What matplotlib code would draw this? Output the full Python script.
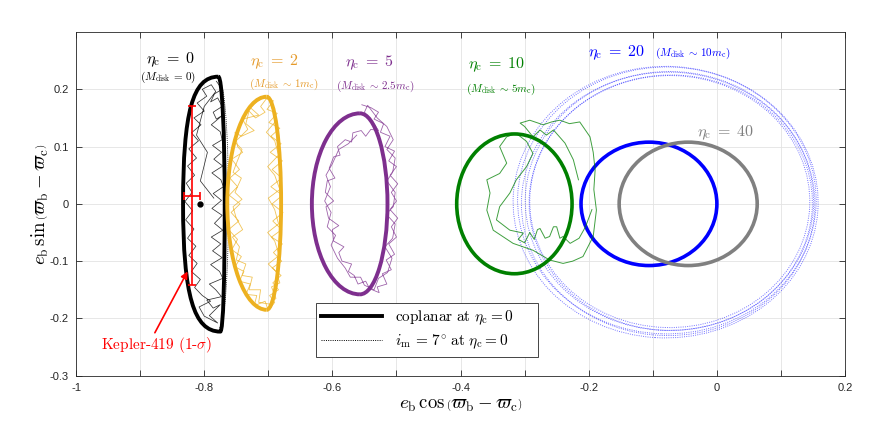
import numpy as np
import matplotlib.pyplot as plt
from matplotlib.patches import Ellipse, Arc, PathPatch
from matplotlib.path import Path
from matplotlib.lines import Line2D

plt.rcParams['mathtext.fontset'] = 'cm'
plt.rcParams['font.family'] = ['Liberation Sans', 'DejaVu Sans']

# --- data -----------------------------------------------------------------
# eta_c = 0 coplanar curve (bezier outline: top, left, bottom, right)
eta0_outline = [(-0.778, 0.222), (-0.818, 0.222), (-0.833, 0.160), (-0.833, 0.000),
                (-0.833, -0.160), (-0.816, -0.223), (-0.775, -0.223),
                (-0.770, -0.223), (-0.768, -0.123), (-0.768, 0.000),
                (-0.768, 0.123), (-0.772, 0.222), (-0.778, 0.222)]

# eta_c = 2, 5 coplanar curves (centre, left half-width, right half-width, half-height)
cres_cx = [-0.7025, -0.557]
cres_cy = [0.001, 0.0]
cres_left = [0.0615, 0.075]
cres_right = [0.0225, 0.043]
cres_halfh = [0.186, 0.158]
cres_colors = ['#EDB120', '#7E2F8E']

# eta_c = 10, 20, 40 coplanar curves
ell_cx = [-0.316, -0.106, -0.0448]
ell_cy = [0.0, 0.0, 0.0]
ell_halfw = [0.090, 0.106, 0.1077]
ell_halfh = [0.122, 0.1077, 0.1077]
ell_colors = ['#008000', '#0000FF', '#808080']

# eta_c = 20, i_m = 7 deg (dotted)
dot_cx = [-0.080, -0.078, -0.076, -0.074, -0.072, -0.0735]
dot_cy = [0.003, 0.006, 0.000, 0.005, 0.002, 0.004]
dot_halfw = [0.238, 0.233, 0.229, 0.225, 0.221, 0.2185]
dot_halfh = [0.237, 0.233, 0.230, 0.226, 0.223, 0.220]
dot_angle = [-4, -2, -6, -3, -5, -2]

# N-body tracks
eta0_track = [
    (-0.781, 0.214), (-0.772, 0.200), (-0.784, 0.192), (-0.790, 0.178), (-0.779, 0.185),
    (-0.772, 0.170), (-0.786, 0.160), (-0.781, 0.148), (-0.771, 0.155), (-0.789, 0.138),
    (-0.775, 0.126), (-0.772, 0.112), (-0.787, 0.102), (-0.773, 0.090), (-0.785, 0.078),
    (-0.771, 0.066), (-0.788, 0.054), (-0.774, 0.042), (-0.770, 0.030), (-0.786, 0.018),
    (-0.773, 0.006), (-0.788, -0.008), (-0.772, -0.020), (-0.784, -0.034), (-0.771, -0.046),
    (-0.789, -0.058), (-0.774, -0.070), (-0.787, -0.082), (-0.772, -0.094), (-0.790, -0.106),
    (-0.776, -0.118), (-0.771, -0.130), (-0.792, -0.140), (-0.782, -0.150), (-0.773, -0.162),
    (-0.796, -0.168), (-0.786, -0.182), (-0.775, -0.176), (-0.792, -0.195), (-0.779, -0.208),
    (-0.800, -0.196), (-0.808, -0.180), (-0.790, -0.170), (-0.803, -0.160), (-0.815, -0.146),
    (-0.806, -0.132), (-0.820, -0.118), (-0.811, -0.104), (-0.824, -0.090), (-0.813, -0.074),
    (-0.826, -0.060), (-0.816, -0.044), (-0.829, -0.028), (-0.818, -0.012), (-0.830, 0.004),
    (-0.819, 0.020), (-0.828, 0.036), (-0.815, 0.050), (-0.826, 0.066), (-0.812, 0.080),
    (-0.824, 0.096), (-0.809, 0.110), (-0.820, 0.124), (-0.805, 0.138), (-0.816, 0.150),
    (-0.800, 0.162), (-0.811, 0.176), (-0.796, 0.188), (-0.803, 0.200), (-0.789, 0.208),
    (-0.782, 0.196), (-0.800, 0.170), (-0.812, 0.120), (-0.795, 0.090), (-0.806, 0.040),
    (-0.785, 0.010),
]

eta2_track = [
    (-0.700, 0.188), (-0.712, 0.170), (-0.705, 0.160), (-0.720, 0.150), (-0.730, 0.162),
    (-0.735, 0.140), (-0.722, 0.128), (-0.742, 0.118), (-0.752, 0.125), (-0.748, 0.100),
    (-0.740, 0.090), (-0.757, 0.078), (-0.745, 0.060), (-0.760, 0.045), (-0.748, 0.030),
    (-0.761, 0.015), (-0.744, 0.000), (-0.758, -0.015), (-0.746, -0.030), (-0.762, -0.045),
    (-0.748, -0.062), (-0.757, -0.080), (-0.742, -0.092), (-0.752, -0.110), (-0.738, -0.118),
    (-0.745, -0.135), (-0.728, -0.140), (-0.735, -0.158), (-0.718, -0.160), (-0.722, -0.178),
    (-0.705, -0.170), (-0.700, -0.186), (-0.690, -0.172), (-0.698, -0.160), (-0.684, -0.150),
    (-0.693, -0.138), (-0.680, -0.125), (-0.694, -0.112), (-0.679, -0.100), (-0.692, -0.085),
    (-0.678, -0.070), (-0.695, -0.058), (-0.679, -0.045), (-0.693, -0.030), (-0.677, -0.015),
    (-0.694, 0.000), (-0.678, 0.015), (-0.696, 0.030), (-0.679, 0.045), (-0.694, 0.060),
    (-0.678, 0.075), (-0.697, 0.090), (-0.680, 0.105), (-0.696, 0.118), (-0.682, 0.132),
    (-0.699, 0.142), (-0.686, 0.158), (-0.702, 0.165), (-0.692, 0.180), (-0.708, 0.185),
    (-0.718, 0.178), (-0.728, 0.168), (-0.715, 0.155), (-0.740, 0.148), (-0.732, 0.130),
    (-0.752, 0.108), (-0.741, 0.095), (-0.750, 0.070), (-0.755, 0.055), (-0.742, 0.045),
    (-0.752, 0.020), (-0.741, 0.008), (-0.755, -0.005), (-0.750, -0.025), (-0.740, -0.045),
    (-0.756, -0.058), (-0.745, -0.075), (-0.750, -0.098), (-0.735, -0.105), (-0.741, -0.125),
    (-0.725, -0.128), (-0.730, -0.150), (-0.712, -0.150), (-0.715, -0.172), (-0.698, -0.175),
    (-0.688, -0.165), (-0.695, -0.145), (-0.682, -0.138), (-0.688, -0.118), (-0.700, -0.105),
    (-0.683, -0.090), (-0.690, -0.065), (-0.701, -0.050), (-0.684, -0.035), (-0.690, -0.010),
    (-0.700, 0.010), (-0.682, 0.025), (-0.690, 0.050), (-0.701, 0.065), (-0.684, 0.085),
    (-0.690, 0.110), (-0.703, 0.125), (-0.688, 0.145), (-0.695, 0.170), (-0.700, 0.188),
]

eta5_track = [
    (-0.554, 0.173), (-0.540, 0.168), (-0.528, 0.160), (-0.535, 0.148), (-0.520, 0.140),
    (-0.525, 0.125), (-0.510, 0.118), (-0.518, 0.100), (-0.503, 0.092), (-0.512, 0.075),
    (-0.500, 0.065), (-0.510, 0.050), (-0.498, 0.035), (-0.508, 0.020), (-0.500, 0.005),
    (-0.510, -0.010), (-0.498, -0.025), (-0.508, -0.040), (-0.500, -0.058), (-0.512, -0.070),
    (-0.503, -0.088), (-0.516, -0.098), (-0.508, -0.115), (-0.522, -0.122), (-0.515, -0.140),
    (-0.530, -0.145), (-0.527, -0.155), (-0.542, -0.148), (-0.548, -0.135), (-0.560, -0.140),
    (-0.566, -0.125), (-0.575, -0.118), (-0.570, -0.105), (-0.585, -0.100), (-0.590, -0.085),
    (-0.582, -0.075), (-0.598, -0.065), (-0.600, -0.045), (-0.590, -0.038), (-0.606, -0.025),
    (-0.610, -0.005), (-0.598, 0.005), (-0.611, 0.020), (-0.608, 0.040), (-0.596, 0.045),
    (-0.605, 0.062), (-0.598, 0.082), (-0.588, 0.085), (-0.592, 0.100), (-0.580, 0.112),
    (-0.570, 0.108), (-0.568, 0.124), (-0.555, 0.128), (-0.548, 0.118), (-0.540, 0.130),
    (-0.528, 0.128), (-0.538, 0.145), (-0.550, 0.160), (-0.545, 0.172), (-0.530, 0.150),
    (-0.515, 0.135), (-0.505, 0.112), (-0.515, 0.095), (-0.502, 0.080), (-0.506, 0.055),
    (-0.515, 0.040), (-0.502, 0.020), (-0.505, -0.005), (-0.516, -0.018), (-0.502, -0.035),
    (-0.506, -0.060), (-0.518, -0.075), (-0.507, -0.095), (-0.514, -0.120), (-0.528, -0.130),
    (-0.535, -0.150), (-0.550, -0.142), (-0.556, -0.128), (-0.572, -0.128), (-0.580, -0.112),
    (-0.592, -0.095), (-0.602, -0.072), (-0.595, -0.055), (-0.608, -0.040), (-0.602, -0.015),
    (-0.612, 0.005), (-0.603, 0.030), (-0.610, 0.050), (-0.600, 0.070), (-0.590, 0.095),
    (-0.575, 0.105), (-0.562, 0.120),
]

eta10_track = [
    (-0.216, 0.042), (-0.224, 0.077), (-0.237, 0.106), (-0.255, 0.129), (-0.266, 0.120),
    (-0.276, 0.129), (-0.287, 0.117), (-0.300, 0.135), (-0.307, 0.141), (-0.292, 0.146),
    (-0.271, 0.138), (-0.258, 0.143), (-0.245, 0.146), (-0.230, 0.140), (-0.214, 0.143),
    (-0.198, 0.117), (-0.193, 0.090), (-0.190, 0.059), (-0.192, 0.025), (-0.188, -0.011),
    (-0.193, -0.057), (-0.209, -0.092), (-0.225, -0.100), (-0.240, -0.104), (-0.261, -0.098),
    (-0.287, -0.081), (-0.318, -0.069), (-0.349, -0.046), (-0.359, -0.011), (-0.354, 0.019),
    (-0.359, 0.042), (-0.339, 0.053), (-0.328, 0.071), (-0.339, 0.100), (-0.328, 0.117),
    (-0.313, 0.123), (-0.297, 0.109), (-0.287, 0.088), (-0.297, 0.065), (-0.313, 0.042),
    (-0.323, 0.019), (-0.339, -0.005), (-0.344, -0.028), (-0.323, -0.046), (-0.302, -0.051),
    (-0.310, -0.062), (-0.300, -0.068), (-0.292, -0.050), (-0.285, -0.062), (-0.280, -0.045),
    (-0.276, -0.043), (-0.268, -0.060), (-0.261, -0.057), (-0.255, -0.040), (-0.250, -0.040),
    (-0.245, -0.060), (-0.240, -0.057), (-0.229, -0.069), (-0.215, -0.060), (-0.205, -0.040),
    (-0.195, -0.010),
]

# Kepler-419 measurement
kep_x, kep_y = -0.819, 0.0145
kep_xerr, kep_yerr = 0.0125, 0.1565
dot_pt = (-0.807, 0.0)

# labels
lab_text = [r'$\eta_{\rm c}\;=\;0$', r'$\eta_{\rm c}\;=\;2$', r'$\eta_{\rm c}\;=\;5$',
            r'$\eta_{\rm c}\;=\;10$', r'$\eta_{\rm c}\;=\;20$', r'$\eta_{\rm c}\;=\;40$']
lab_sub = [r'$(M_{\rm disk}\,=\,0)$', r'$(M_{\rm disk}\,\sim\,1m_{\rm c})$',
           r'$(M_{\rm disk}\,\sim\,2.5m_{\rm c})$', r'$(M_{\rm disk}\,\sim\,5m_{\rm c})$',
           r'$(M_{\rm disk}\,\sim\,10m_{\rm c})$', '']
lab_x = [-0.853, -0.690, -0.542, -0.344, -0.156, 0.0133]
lab_y = [0.251, 0.248, 0.246, 0.2424, 0.263, 0.124]
sub_x = [-0.856, -0.676, -0.533, -0.337, -0.037, 0.0]
sub_y = [0.220, 0.209, 0.2045, 0.200, 0.263, 0.0]
lab_colors = ['black', '#E59A2A', '#7E2F8E', '#008000', '#0000FF', '#808080']

# --- figure -----------------------------------------------------------------
fig = plt.figure(figsize=(8.72, 4.25), dpi=100)
ax = fig.add_axes([0.0872, 0.116, 0.8819, 0.8087])

# dotted inclined runs (eta_c = 20)
for cx, cy, hw, hh, ang in zip(dot_cx, dot_cy, dot_halfw, dot_halfh, dot_angle):
    ax.add_patch(Ellipse((cx, cy), 2 * hw, 2 * hh, angle=ang, fill=False,
                         edgecolor='#0000FF', alpha=0.55, lw=0.7,
                         linestyle=(0, (1, 1.3))))

# N-body tracks
tr = np.array(eta0_track)
ax.plot(tr[:, 0], tr[:, 1], color='black', lw=0.55, alpha=0.8)
tr = np.array(eta2_track)
ax.plot(tr[:, 0], tr[:, 1], color='#EDB120', lw=0.6, alpha=0.75)
tr = np.array(eta5_track)
ax.plot(tr[:, 0], tr[:, 1], color='#7E2F8E', lw=0.6, alpha=0.75)
tr = np.array(eta10_track)
ax.plot(tr[:, 0], tr[:, 1], color='#008000', lw=0.7, alpha=0.75)

# eta_c = 0 inclined (dotted) and coplanar curves
ax.add_patch(Arc((-0.776, -0.001), 2 * 0.014, 2 * 0.215, theta1=-90, theta2=90,
                 color='black', lw=0.6, linestyle=(0, (1, 1.3))))
codes = [Path.MOVETO] + [Path.CURVE4] * 12
ax.add_patch(PathPatch(Path(eta0_outline, codes), fill=False, edgecolor='black', lw=2.8))

for cx, cy, l, r, h, c in zip(cres_cx, cres_cy, cres_left, cres_right, cres_halfh, cres_colors):
    ax.add_patch(Arc((cx, cy), 2 * l, 2 * h, theta1=90, theta2=270, color=c, lw=2.8))
    ax.add_patch(Arc((cx, cy), 2 * r, 2 * h, theta1=-90, theta2=90, color=c, lw=2.8))

for cx, cy, hw, hh, c in zip(ell_cx, ell_cy, ell_halfw, ell_halfh, ell_colors):
    ax.add_patch(Ellipse((cx, cy), 2 * hw, 2 * hh, fill=False, edgecolor=c, lw=2.6))

# Kepler-419
ax.errorbar(kep_x, kep_y, xerr=kep_xerr, yerr=kep_yerr, fmt='none', ecolor='red',
            elinewidth=1.2, capsize=3, capthick=1.2)
ax.plot(*dot_pt, 'o', color='black', ms=3.5)
ax.annotate('', xy=(-0.826, -0.118), xytext=(-0.877, -0.225),
            arrowprops=dict(arrowstyle='-|>', color='red', lw=1.2, mutation_scale=10,
                            shrinkA=0, shrinkB=0))
ax.text(-0.874, -0.246, r'Kepler-419 (1-$\sigma$)', color='red', fontsize=11,
        family='cmr10', ha='center', va='center')

# labels
for t, s, x, y, sx, sy, c in zip(lab_text, lab_sub, lab_x, lab_y, sub_x, sub_y, lab_colors):
    ax.text(x, y, t, color=c, fontsize=11.5, ha='center', va='center')
    if s:
        ax.text(sx, sy, s, color=c, fontsize=8, ha='center', va='center')

# legend
handles = [Line2D([], [], color='black', lw=2.8),
           Line2D([], [], color='black', lw=0.7, linestyle=(0, (1, 1.3)))]
labels = [r'$\mathrm{coplanar\ at}\ \eta_{\rm c}{=}0$',
          r'$i_{\rm m}\,=\,7^{\circ}\ \mathrm{at}\ \eta_{\rm c}{=}0$']
leg = ax.legend(handles, labels, loc='lower left', mode='expand',
                bbox_to_anchor=(0.312, 0.055, 0.289, 0.16),
                borderaxespad=0, fontsize=11, handlelength=4.0, handletextpad=0.8,
                labelspacing=0.4, borderpad=0.35, fancybox=False, framealpha=1,
                edgecolor='#262626')
leg.get_frame().set_linewidth(0.6)

# axes
ax.set_xlim(-1, 0.2)
ax.set_ylim(-0.3, 0.3)
xt = np.round(np.arange(-1.0, 0.21, 0.1), 1)
ax.set_xticks(xt)
ax.set_xticklabels(['-1', '', '-0.8', '', '-0.6', '', '-0.4', '', '-0.2', '', '0', '', '0.2'])
yt = [-0.3, -0.2, -0.1, 0.0, 0.1, 0.2]
ax.set_yticks(yt)
ax.set_yticklabels(['-0.3', '-0.2', '-0.1', '0', '0.1', '0.2'])
ax.tick_params(direction='in', top=True, right=True, length=4, width=0.6,
               color='#262626', labelsize=8, labelcolor='#262626', pad=5)
ax.grid(True, color='#e3e3e3', lw=0.6)
ax.set_axisbelow(True)
for sp in ax.spines.values():
    sp.set_color('#262626')
    sp.set_linewidth(0.6)

ax.set_xlabel(r'$e_{\rm b}\,\cos\left(\varpi_{\rm b}-\varpi_{\rm c}\right)$', fontsize=13.5,
              labelpad=3)
ax.set_ylabel(r'$e_{\rm b}\,\sin\left(\varpi_{\rm b}-\varpi_{\rm c}\right)$', fontsize=13.5,
              labelpad=-1)

fig.savefig('out.png', dpi=100)
